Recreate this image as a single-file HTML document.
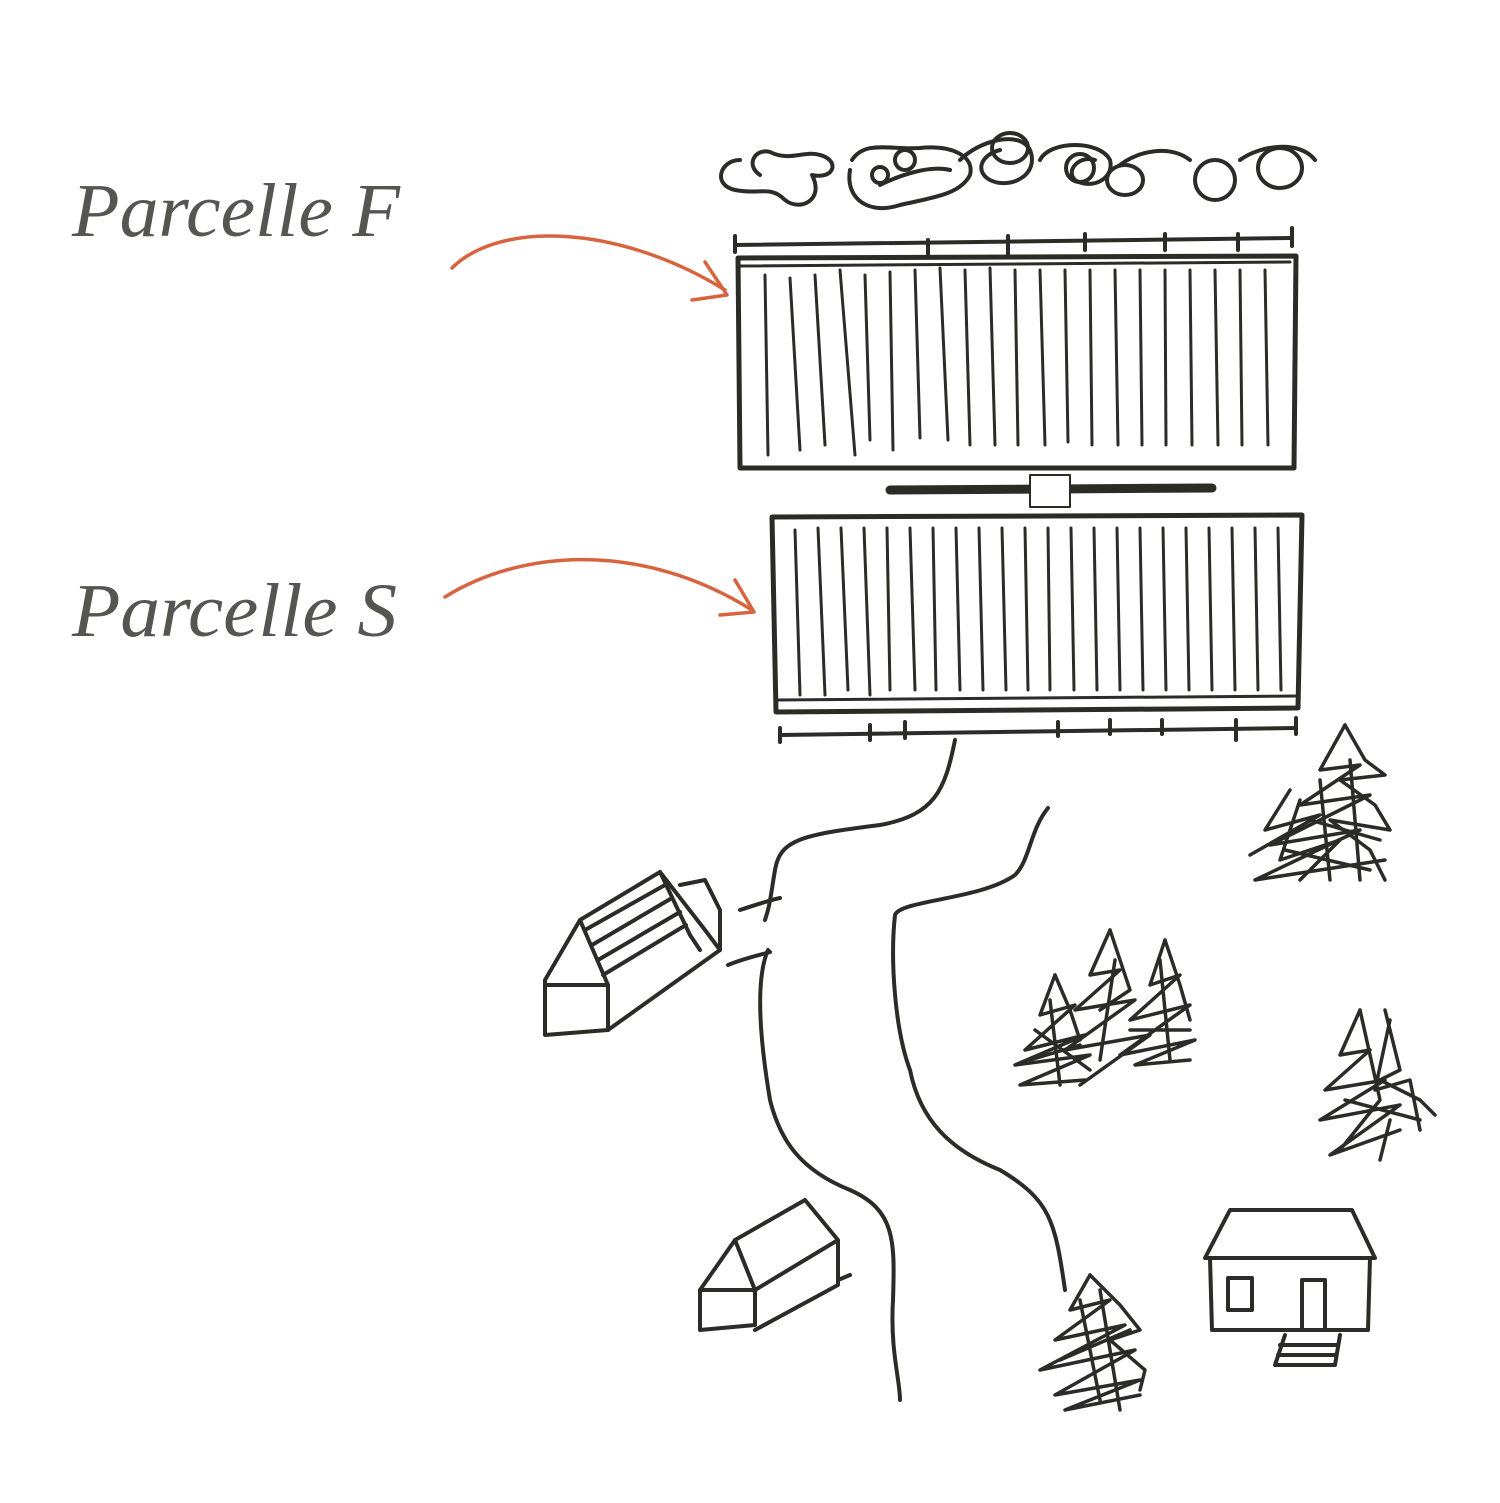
<!DOCTYPE html>
<html><head><meta charset="utf-8"><style>
html,body{margin:0;padding:0;background:#fff;}
svg{display:block}
text{font-family:"Liberation Serif",serif;font-style:italic;fill:#555552;}
</style></head><body>
<svg width="1500" height="1503" viewBox="0 0 1500 1503" xmlns="http://www.w3.org/2000/svg">
<g fill="none" stroke="#2b2b28" stroke-width="4" stroke-linecap="round" stroke-linejoin="round">
<!-- bushes -->
<path d="M740 160 C720 160 712 185 735 190 C760 195 770 185 785 200 C800 212 825 200 812 175 C835 180 840 160 820 155 C805 150 790 162 770 152 C755 148 745 165 760 175"/>
<path d="M850 170 C845 200 870 215 900 205 C930 198 960 195 970 175 C975 155 950 145 920 148 C890 150 865 140 852 160"/>
<circle cx="905" cy="160" r="10"/>
<circle cx="880" cy="175" r="8"/>
<path d="M880 185 C900 175 930 165 950 170"/>
<path d="M960 160 C980 140 1020 130 1030 150 C1040 175 1010 190 990 180 C975 172 980 155 1000 150"/>
<ellipse cx="1010" cy="148" rx="18" ry="15"/>
<path d="M1040 160 C1050 140 1100 140 1110 160 C1115 180 1090 190 1075 180 C1065 170 1080 155 1095 160"/>
<ellipse cx="1080" cy="168" rx="14" ry="14"/>
<ellipse cx="1125" cy="180" rx="18" ry="15"/>
<path d="M1120 165 C1140 150 1170 145 1190 160"/>
<ellipse cx="1215" cy="180" rx="20" ry="20"/>
<ellipse cx="1280" cy="168" rx="22" ry="20"/>
<path d="M1240 160 C1260 145 1300 140 1315 160"/>
<!-- scale bar top -->
<path d="M735 245 L1292 238"/>
<path d="M735 236 V252 M928 240 V254 M1008 236 V254 M1085 234 V250 M1165 234 V250 M1238 234 V250 M1292 228 V246"/>
<!-- parcel F -->
<path d="M738 258 L1296 256 L1294 468 L740 468 Z" stroke-width="5"/>
<path d="M738 266 L1290 262" stroke-width="3"/>
</g>
<g stroke="#2b2b28" stroke-width="3" stroke-linecap="round">
<line x1="765" y1="275" x2="768" y2="455"/><line x1="790" y1="278" x2="800" y2="450"/>
<line x1="815" y1="275" x2="825" y2="445"/><line x1="840" y1="270" x2="855" y2="455"/>
<line x1="865" y1="275" x2="870" y2="440"/><line x1="890" y1="272" x2="893" y2="450"/>
<line x1="915" y1="270" x2="920" y2="438"/><line x1="940" y1="268" x2="948" y2="440"/>
<line x1="965" y1="270" x2="970" y2="445"/><line x1="990" y1="268" x2="995" y2="445"/>
<line x1="1015" y1="270" x2="1018" y2="445"/><line x1="1040" y1="270" x2="1045" y2="445"/>
<line x1="1065" y1="270" x2="1068" y2="442"/><line x1="1090" y1="270" x2="1092" y2="445"/>
<line x1="1115" y1="270" x2="1118" y2="445"/><line x1="1140" y1="270" x2="1142" y2="445"/>
<line x1="1165" y1="270" x2="1166" y2="445"/><line x1="1190" y1="270" x2="1192" y2="445"/>
<line x1="1215" y1="270" x2="1218" y2="445"/><line x1="1240" y1="270" x2="1242" y2="445"/>
<line x1="1265" y1="270" x2="1268" y2="445"/>
</g>
<g fill="none" stroke="#2b2b28" stroke-width="4" stroke-linecap="round" stroke-linejoin="round">
<!-- pipe -->
<path d="M890 490 L1212 488" stroke-width="9"/>
<rect x="1030" y="475" width="40" height="32" fill="#fff" stroke-width="2"/>
<!-- parcel S -->
<path d="M772 517 L1302 515 L1298 708 L776 712 Z" stroke-width="5"/>
<path d="M776 700 L1298 696" stroke-width="3"/>
</g>
<g stroke="#2b2b28" stroke-width="3" stroke-linecap="round">
<line x1="795" y1="530" x2="800" y2="695"/><line x1="818" y1="528" x2="825" y2="695"/>
<line x1="841" y1="528" x2="848" y2="690"/><line x1="864" y1="528" x2="870" y2="695"/>
<line x1="887" y1="528" x2="890" y2="690"/><line x1="910" y1="528" x2="915" y2="690"/>
<line x1="933" y1="528" x2="936" y2="690"/><line x1="956" y1="528" x2="960" y2="690"/>
<line x1="979" y1="528" x2="983" y2="690"/><line x1="1002" y1="528" x2="1006" y2="690"/>
<line x1="1025" y1="528" x2="1028" y2="690"/><line x1="1048" y1="528" x2="1050" y2="690"/>
<line x1="1071" y1="528" x2="1074" y2="690"/><line x1="1094" y1="528" x2="1097" y2="690"/>
<line x1="1117" y1="528" x2="1120" y2="690"/><line x1="1140" y1="528" x2="1143" y2="690"/>
<line x1="1163" y1="528" x2="1166" y2="690"/><line x1="1186" y1="528" x2="1189" y2="690"/>
<line x1="1209" y1="528" x2="1212" y2="690"/><line x1="1232" y1="528" x2="1235" y2="690"/>
<line x1="1255" y1="528" x2="1258" y2="690"/><line x1="1278" y1="528" x2="1281" y2="690"/>
</g>
<g fill="none" stroke="#2b2b28" stroke-width="4" stroke-linecap="round" stroke-linejoin="round">
<!-- scale bar bottom -->
<path d="M780 735 L1296 728"/>
<path d="M780 728 V742 M870 725 V740 M905 722 V738 M1058 722 V736 M1110 720 V734 M1162 720 V734 M1236 720 V740 M1296 718 V734"/>
<!-- river -->
<path d="M955 740 C945 790 935 815 880 825 C800 835 780 840 775 870 C770 900 770 905 765 920"/>
<path d="M768 950 C755 980 760 1040 770 1100 C780 1140 800 1170 850 1190 C895 1210 895 1240 893 1300 C890 1350 900 1380 900 1400"/>
<path d="M1048 808 C1030 830 1030 860 1015 875 C980 900 900 900 895 915 C890 960 895 1030 910 1070 C920 1120 950 1150 1000 1170 C1050 1200 1055 1220 1065 1290"/>
<!-- house 1 barn -->
<path d="M545 980 L580 920 L608 985 L608 1030 L545 1035 Z"/>
<path d="M545 985 L608 985"/>
<path d="M580 920 L660 872 L705 930 L720 950 L608 1030"/>
<path d="M660 872 L690 935 M585 930 L665 885 M592 945 L672 898 M598 960 L680 912 M603 975 L686 925"/>
<path d="M680 885 L705 880 L720 910 L720 950 M690 935 L700 950"/>
<path d="M740 910 C755 905 770 900 780 898 M728 965 C745 958 760 955 770 952"/>
<!-- house 2 -->
<path d="M700 1290 L735 1240 L755 1290 L755 1325 L700 1330 Z"/>
<path d="M700 1290 L755 1290 M735 1240 L805 1200 L838 1240 L838 1285 L755 1330 M838 1240 L755 1290 M838 1280 L850 1275"/>
<!-- cabin -->
<path d="M1205 1258 L1230 1210 L1352 1210 L1375 1258 Z"/>
<path d="M1210 1258 L1212 1330 L1368 1330 L1370 1258"/>
<rect x="1228" y="1278" width="24" height="32"/>
<path d="M1302 1330 L1302 1280 L1325 1280 L1325 1330"/>
<path d="M1285 1335 L1275 1365 L1335 1365 L1340 1335 M1280 1345 L1338 1345 M1278 1355 L1336 1355"/>
</g>
<!-- trees (scribbly) -->
<g fill="none" stroke="#2b2b28" stroke-width="3.5" stroke-linecap="round" stroke-linejoin="round">
<path d="M1345 725 L1320 770 L1360 765 L1300 805 L1370 795 L1270 845 L1360 830 L1255 880 L1385 860"/>
<path d="M1345 725 L1365 760 L1385 775 L1340 780 L1375 805 L1390 830 L1330 820 L1370 850 L1385 880"/>
<path d="M1290 790 L1265 830 L1320 815 L1250 855 M1300 800 L1280 860 L1340 840 L1300 880 M1350 760 L1360 880 M1320 780 L1330 880 M1310 820 L1380 840 M1285 850 L1370 870"/>
<path d="M1110 930 L1090 975 L1120 970 L1075 1010 L1135 1000 L1065 1050 L1150 1035 L1080 1085"/>
<path d="M1110 930 L1125 975 L1130 990 L1100 1010 M1115 960 L1100 1060"/>
<path d="M1055 975 L1040 1015 L1075 1005 L1025 1050 L1085 1035 L1015 1065 L1090 1055 L1020 1085 L1085 1080"/>
<path d="M1055 975 L1070 1010 L1080 1040 M1050 1000 L1060 1085 M1035 1030 L1090 1070 M1030 1060 L1080 1045"/>
<path d="M1165 940 L1150 985 L1180 975 L1130 1020 L1190 1005 L1120 1055 L1195 1040 L1135 1065 L1190 1060"/>
<path d="M1165 940 L1180 985 L1190 1020 M1160 960 L1170 1060 M1130 1030 L1190 1030"/>
<path d="M1360 1010 L1340 1055 L1370 1050 L1325 1090 L1385 1080 L1320 1120 L1400 1105 L1330 1155 L1400 1130"/>
<path d="M1385 1010 L1395 1050 L1400 1070 L1380 1080 L1420 1100 L1435 1115 M1390 1020 L1375 1090 L1410 1080 L1420 1130 M1360 1010 L1380 1100 L1340 1150 M1390 1120 L1380 1160 M1345 1100 L1420 1120"/>
<path d="M1090 1275 L1070 1310 L1110 1300 L1055 1340 L1125 1325 L1040 1370 L1135 1350 L1055 1395 L1140 1380 L1065 1410 L1140 1395"/>
<path d="M1090 1275 L1120 1305 L1140 1330 L1110 1340 L1145 1370 L1140 1390 M1080 1300 L1100 1400 M1100 1290 L1120 1410 M1060 1360 L1130 1330"/>
</g>
<!-- orange arrows -->
<g fill="none" stroke="#d8643f" stroke-width="3.5" stroke-linecap="round" stroke-linejoin="round">
<path d="M452 268 C500 220 620 225 725 290"/>
<path d="M705 262 L727 295 L692 300"/>
<path d="M445 597 C520 550 640 540 752 610"/>
<path d="M735 580 L754 612 L720 615"/>
</g>
<text x="72" y="236" font-size="76" textLength="328" lengthAdjust="spacingAndGlyphs">Parcelle F</text>
<text x="72" y="636" font-size="76" textLength="325" lengthAdjust="spacingAndGlyphs">Parcelle S</text>
</svg>
</body></html>
